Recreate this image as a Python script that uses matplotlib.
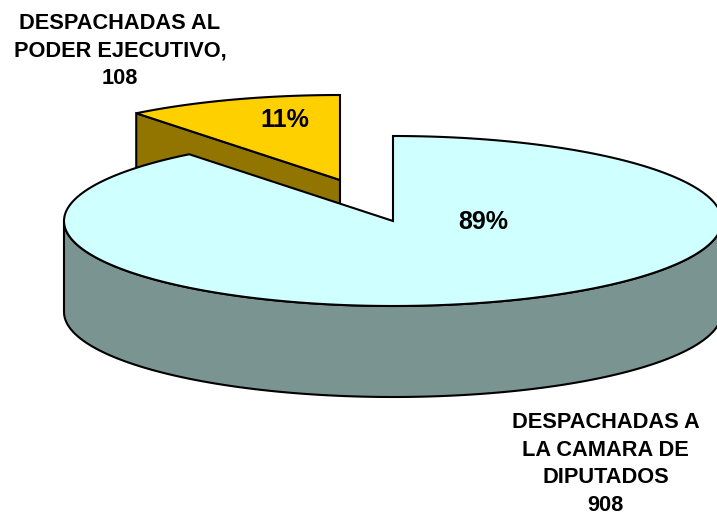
import matplotlib
matplotlib.use("Agg")
import matplotlib.pyplot as plt
from matplotlib.patches import Polygon
import numpy as np

# values
labels = ["DESPACHADAS A\nLA CAMARA DE\nDIPUTADOS\n908", "DESPACHADAS AL\nPODER EJECUTIVO,\n108"]
values = [908, 108]
percents = ["89%", "11%"]
colors_top = ["#CFFFFF", "#FFD000"]
colors_side = ["#7A9492", "#917500"]

plt.rcParams['font.family'] = ['Liberation Sans', 'DejaVu Sans']

W, H = 717, 514
cx, cy = 393, 221   # pie centre, pixels
rx, ry = 329, 85    # ellipse radii
depth = 91
offset = (-53, -41)  # exploded slice shift
lw = 1.5

fig = plt.figure(figsize=(W / 100, H / 100), dpi=100)
ax = fig.add_axes([0, 0, 1, 1])
ax.set_xlim(0, W)
ax.set_ylim(H, 0)
ax.axis("off")


def ell(theta, dx=0, dy=0):
    return np.column_stack([cx + dx + rx * np.cos(theta), cy + dy - ry * np.sin(theta)])


# angles clockwise from the top
main_sweep = 2 * np.pi * values[0] / sum(values)
a_start = np.pi / 2
a_end = a_start - main_sweep

# exploded slice, drawn first
dx, dy = offset
t = np.linspace(a_end + 2 * np.pi, a_start, 60)
arc = ell(t, dx, dy)
apex = np.array([[cx + dx, cy + dy]])
# cut faces of the slice
left = arc[0]
face1 = np.vstack([apex, [left], [left + [0, depth]], apex + [0, depth]])
ax.add_patch(Polygon(face1, closed=True, fc=colors_side[1], ec="black", lw=lw, zorder=1))
ax.add_patch(Polygon(np.vstack([apex, arc]), closed=True, fc=colors_top[1], ec="black", lw=lw, zorder=2))

# main slice wall (front half only)
t_wall = np.linspace(np.pi, 2 * np.pi, 120)
front = ell(t_wall)
wall = np.vstack([front, front[::-1] + [0, depth]])
ax.add_patch(Polygon(wall, closed=True, fc=colors_side[0], ec="black", lw=lw, zorder=3))

# main slice top
t_main = np.linspace(a_start, a_end, 240)
top = np.vstack([[[cx, cy]], ell(t_main)])
ax.add_patch(Polygon(top, closed=True, fc=colors_top[0], ec="black", lw=lw, zorder=4))

font = dict(fontsize=15.7, fontweight="bold", ha="center", va="center", color="black", linespacing=1.4, zorder=5)
ax.text(605.5, 464, labels[0], **font)
ax.text(120, 51, labels[1], **font)
ax.text(483, 222, percents[0], fontsize=18, fontweight="bold", ha="center", va="center", zorder=5)
ax.text(285, 120, percents[1], fontsize=18, fontweight="bold", ha="center", va="center", zorder=5)

fig.savefig("out.png", dpi=100)
